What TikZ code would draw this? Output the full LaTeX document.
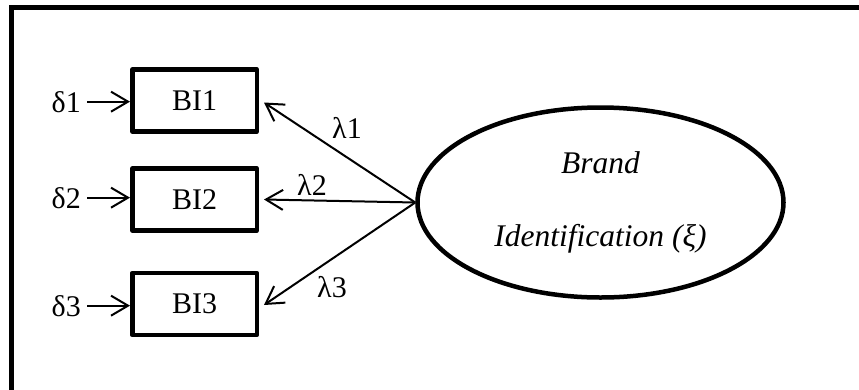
\documentclass[tikz,border=0pt]{standalone}
\usepackage{fontspec}
\setmainfont{Liberation Serif}
\usetikzlibrary{arrows.meta,shapes.geometric}
\begin{document}
\begin{tikzpicture}[x=1pt,y=-1pt,
  txt/.style={font=\fontsize{30}{36}\selectfont, inner sep=0pt},
  itembox/.style={draw, line width=4.5pt, line join=round, minimum width=124.5pt,
    minimum height=62pt, inner sep=0pt, font=\fontsize{30}{36}\selectfont},
  latent/.style={draw, ellipse, line width=4.5pt, minimum width=366pt,
    minimum height=190pt, inner sep=0pt, align=center,
    font=\fontsize{31.5}{73}\selectfont\itshape},
  link/.style={line width=2pt, -{Straight Barb[length=17pt,width=20pt,line width=2pt]}}
]
\useasboundingbox (0,0) rectangle (859,389);

% open frame: top and left sides only
\draw[line width=5pt] (11,395) -- (11,7.5) -- (865,7.5);

% indicators
\node[itembox] (bi1) at (194.5,100.5) {BI1};
\node[itembox] (bi2) at (194.5,199.5) {BI2};
\node[itembox] (bi3) at (194.5,304) {BI3};

% latent construct
\node[latent] (xi) at (600.5,202.5) {Brand\\Identification (ξ)};

% error terms
\node[txt, anchor=base east] (d1) at (81,112) {δ1};
\node[txt, anchor=base east] (d2) at (81,208) {δ2};
\node[txt, anchor=base east] (d3) at (81,316) {δ3};

\coordinate (e1) at ([xshift=6pt]d1.east);
\coordinate (e2) at ([xshift=6pt]d2.east);
\coordinate (e3) at ([xshift=6pt]d3.east);
\draw[link] (e1) -- (e1 -| bi1.west);
\draw[link] (e2) -- (e2 -| bi2.west);
\draw[link] (e3) -- (e3 -| bi3.west);

% loadings
\coordinate (src) at (xi.west);
\draw[link] (src) -- ([xshift=5pt,yshift=-2pt]bi1.east);
\draw[link] (src) -- ([xshift=5pt]bi2.east);
\draw[link] (src) -- ([xshift=5pt,yshift=-1pt]bi3.east);

\node[txt, anchor=base west] (l1) at (332,138) {λ1};
\node[txt, anchor=base west] (l2) at (297,195) {λ2};
\node[txt, anchor=base west] (l3) at (317,297) {λ3};
\end{tikzpicture}
\end{document}
